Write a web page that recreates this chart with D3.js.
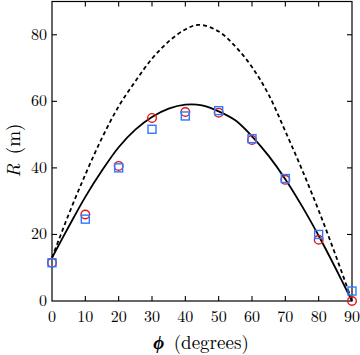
<!DOCTYPE html>
<html>
<head>
<meta charset="utf-8">
<script src="https://cdn.jsdelivr.net/npm/d3@7"></script>
<style>
  body { margin: 0; background: #fff; }
</style>
</head>
<body>
<svg width="360" height="355"></svg>
<script>
var width = 360;
var height = 355;
var margin = {top: 1.5, right: 8, bottom: 54, left: 52};

// measured points (angle in degrees, range in m)
var angles = [0, 10, 20, 30, 40, 50, 60, 70, 80, 90];
var rangeCircles = [11.5, 26, 40.6, 55, 56.8, 56.6, 48.4, 36.4, 18.4, 0];
var rangeSquares = [11.5, 24.6, 40, 51.6, 55.6, 57.2, 48.8, 36.8, 20, 3];

// model curves
var solidAngles = [0, 5, 10, 15, 20, 25, 30, 35, 40, 45, 50, 55, 60, 65, 70, 75, 80, 85, 90];
var solidRange = [13, 22.3, 31.3, 39.2, 46.2, 51.5, 55.3, 57.8, 59, 58.8, 57, 54.3, 49.5, 43.6, 36.6, 28.5, 19.6, 10, 0];
var dashAngles = [0, 5, 10, 15, 20, 25, 30, 35, 40, 44, 50, 55, 60, 65, 70, 75, 80, 85, 90];
var dashRange = [13, 26, 38, 49, 58.5, 66, 72.8, 78, 81.6, 83, 81, 76.5, 70.3, 62, 51, 39.5, 27.2, 14, 0];

var xTicks = [0, 10, 20, 30, 40, 50, 60, 70, 80, 90];
var yTicks = [0, 20, 40, 60, 80];

var serif = "'Latin Modern Roman', 'Liberation Serif', serif";

var xScale = d3.scaleLinear()
  .domain([0, 90])
  .range([margin.left, width - margin.right]);

var yScale = d3.scaleLinear()
  .domain([0, 90])
  .range([height - margin.bottom, margin.top]);

var svg = d3.select("svg");

var x0 = xScale(0), x1 = xScale(90), y0 = yScale(0), y1 = yScale(90);

// box
svg.append("rect")
    .attr("x", x0)
    .attr("y", y1)
    .attr("width", x1 - x0)
    .attr("height", y0 - y1)
    .attr("fill", "none")
    .attr("stroke", "#000")
    .attr("stroke-width", 1.2);

var tickLen = 5;
var tickG = svg.append("g").attr("stroke", "#000").attr("stroke-width", 1.1);

xTicks.forEach(function(t) {
  if (t === 0 || t === 90) return;
  tickG.append("line").attr("x1", xScale(t)).attr("x2", xScale(t)).attr("y1", y0).attr("y2", y0 - tickLen);
  tickG.append("line").attr("x1", xScale(t)).attr("x2", xScale(t)).attr("y1", y1).attr("y2", y1 + tickLen);
});
yTicks.forEach(function(t) {
  if (t === 0) return;
  tickG.append("line").attr("x1", x0).attr("x2", x0 + tickLen).attr("y1", yScale(t)).attr("y2", yScale(t));
  tickG.append("line").attr("x1", x1).attr("x2", x1 - tickLen).attr("y1", yScale(t)).attr("y2", yScale(t));
});

svg.append("g")
  .selectAll("text")
  .data(xTicks)
  .enter()
  .append("text")
    .attr("x", d => xScale(d))
    .attr("y", y0 + 21)
    .attr("text-anchor", "middle")
    .style("font-family", serif)
    .style("font-size", "16px")
    .text(d => d);

svg.append("g")
  .selectAll("text")
  .data(yTicks)
  .enter()
  .append("text")
    .attr("x", x0 - 5)
    .attr("y", d => yScale(d) + 5)
    .attr("text-anchor", "end")
    .style("font-family", serif)
    .style("font-size", "16px")
    .text(d => d);

// axis labels
var xl = svg.append("text")
    .attr("x", 201)
    .attr("y", 349)
    .attr("text-anchor", "middle")
    .style("font-family", serif)
    .style("font-size", "19px");
xl.append("tspan").style("font-style", "italic").style("font-weight", "bold").text("\u03d5");
xl.append("tspan").text("\u2002(degrees)");

var yl = svg.append("text")
    .attr("transform", "translate(20," + 150.5 + ") rotate(-90)")
    .attr("text-anchor", "middle")
    .style("font-family", serif)
    .style("font-size", "19px");
yl.append("tspan").style("font-style", "italic").text("R");
yl.append("tspan").text("\u2002(m)");

// curves
var line = d3.line()
  .x(d => xScale(d[0]))
  .y(d => yScale(d[1]))
  .curve(d3.curveCatmullRom);

svg.append("path")
    .datum(d3.zip(dashAngles, dashRange))
    .attr("d", line)
    .attr("fill", "none")
    .attr("stroke", "#000")
    .attr("stroke-width", 1.8)
    .attr("stroke-dasharray", "4,3");

svg.append("path")
    .datum(d3.zip(solidAngles, solidRange))
    .attr("d", line)
    .attr("fill", "none")
    .attr("stroke", "#000")
    .attr("stroke-width", 1.8);

// markers
svg.append("g")
  .selectAll("circle")
  .data(d3.zip(angles, rangeCircles))
  .enter()
  .append("circle")
    .attr("cx", d => xScale(d[0]))
    .attr("cy", d => yScale(d[1]))
    .attr("r", 4.3)
    .attr("fill", "none")
    .attr("stroke", "#e01818")
    .attr("stroke-width", 1.4);

var sq = 8;
svg.append("g")
  .selectAll("rect")
  .data(d3.zip(angles, rangeSquares))
  .enter()
  .append("rect")
    .attr("x", d => xScale(d[0]) - sq / 2)
    .attr("y", d => yScale(d[1]) - sq / 2)
    .attr("width", sq)
    .attr("height", sq)
    .attr("fill", "none")
    .attr("stroke", "#2f78ff")
    .attr("stroke-width", 1.4);
</script>
</body>
</html>
